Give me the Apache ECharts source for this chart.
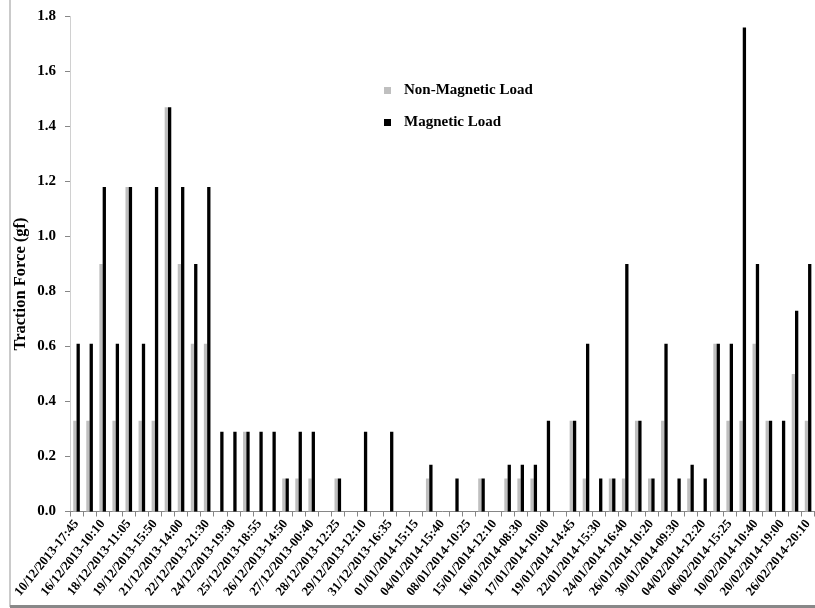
<!DOCTYPE html>
<html>
<head>
<meta charset="utf-8">
<script src="https://cdn.jsdelivr.net/npm/echarts@6/dist/echarts.min.js"></script>
<style>
html, body { margin: 0; padding: 0; background: #fff; }
#main { width: 815px; height: 608px; }
</style>
</head>
<body>
<div id="main"></div>
<script>
// category labels, only every second one is printed on the axis
var categories = [
    '10/12/2013-17:45', '', '16/12/2013-10:10', '', '18/12/2013-11:05', '', '19/12/2013-15:50', '',
    '21/12/2013-14:00', '', '22/12/2013-21:30', '', '24/12/2013-19:30', '', '25/12/2013-18:55', '',
    '26/12/2013-14:50', '', '27/12/2013-00:40', '', '28/12/2013-12:25', '', '29/12/2013-12:10', '',
    '31/12/2013-16:35', '', '01/01/2014-15:15', '', '04/01/2014-15:40', '', '08/01/2014-10:25', '',
    '15/01/2014-12:10', '', '16/01/2014-08:30', '', '17/01/2014-10:00', '', '19/01/2014-14:45', '',
    '22/01/2014-15:30', '', '24/01/2014-16:40', '', '26/01/2014-10:20', '', '30/01/2014-09:30', '',
    '04/02/2014-12:20', '', '06/02/2014-15:25', '', '10/02/2014-10:40', '', '20/02/2014-19:00', '',
    '26/02/2014-20:10'
];

var nonMagnetic = [
    0.33, 0.33, 0.9, 0.33, 1.18, 0.33, 0.33, 1.47, 0.9, 0.61,
    0.61, 0, 0, 0.29, 0, 0, 0.12, 0.12, 0.12, 0,
    0.12, 0, 0, 0, 0, 0, 0, 0.12, 0, 0,
    0, 0.12, 0, 0.12, 0.12, 0.12, 0, 0, 0.33, 0.12,
    0, 0.12, 0.12, 0.33, 0.12, 0.33, 0, 0.12, 0, 0.61,
    0.33, 0.33, 0.61, 0.33, 0, 0.5, 0.33
];

var magnetic = [
    0.61, 0.61, 1.18, 0.61, 1.18, 0.61, 1.18, 1.47, 1.18, 0.9,
    1.18, 0.29, 0.29, 0.29, 0.29, 0.29, 0.12, 0.29, 0.29, 0,
    0.12, 0, 0.29, 0, 0.29, 0, 0, 0.17, 0, 0.12,
    0, 0.12, 0, 0.17, 0.17, 0.17, 0.33, 0, 0.33, 0.61,
    0.12, 0.12, 0.9, 0.33, 0.12, 0.61, 0.12, 0.17, 0.12, 0.61,
    0.61, 1.76, 0.9, 0.33, 0.33, 0.73, 0.9
];

var yTicks = [0, 1.8, 0.2]; // min, max, step

var serif = "'Liberation Serif', 'Times New Roman', serif";

var dom = document.getElementById('main');
var myChart = echarts.init(dom, null, {renderer: 'canvas'});

var option = {
    backgroundColor: '#fff',
    animation: false,
    grid: {
        left: 70,
        top: 16.5,
        width: 745.6,
        height: 495
    },
    legend: {
        orient: 'vertical',
        left: 379,
        top: 78,
        itemWidth: 7,
        itemHeight: 7,
        itemGap: 17,
        icon: 'rect',
        textStyle: {
            fontFamily: serif,
            fontWeight: 'bold',
            fontSize: 15,
            color: '#000',
            padding: [0, 0, 0, 8]
        },
        data: ['Non-Magnetic Load', 'Magnetic Load']
    },
    xAxis: {
        type: 'category',
        data: categories,
        axisLine: {lineStyle: {color: '#868686', width: 1}},
        axisTick: {show: true, interval: 0, length: 5, lineStyle: {color: '#868686'}},
        axisLabel: {
            interval: 0,
            rotate: 51,
            margin: 10,
            fontFamily: serif,
            fontWeight: 'bold',
            fontSize: 13,
            color: '#000'
        }
    },
    yAxis: {
        type: 'value',
        min: yTicks[0],
        max: yTicks[1],
        interval: yTicks[2],
        splitLine: {show: false},
        axisLine: {show: true, lineStyle: {color: '#d0d0d0'}},
        axisTick: {show: true, length: 5, lineStyle: {color: '#868686'}},
        axisLabel: {
            margin: 14,
            fontFamily: serif,
            fontWeight: 'bold',
            fontSize: 15,
            color: '#000',
            formatter: function (v) { return v.toFixed(1); }
        }
    },
    graphic: [
        {
            type: 'text',
            x: 21,
            y: 284,
            rotation: Math.PI / 2,
            style: {
                text: 'Traction Force (gf)',
                fontFamily: serif,
                fontWeight: 'bold',
                fontSize: 16.5,
                fill: '#000',
                align: 'center',
                verticalAlign: 'middle'
            }
        },
        // frame of the original figure
        {type: 'line', shape: {x1: 10, y1: 0, x2: 10, y2: 607}, style: {stroke: '#b8b8b8', lineWidth: 1.5}},
        {type: 'line', shape: {x1: 10, y1: 606.5, x2: 815, y2: 606.5}, style: {stroke: '#888', lineWidth: 3}}
    ],
    series: [
        {
            name: 'Non-Magnetic Load',
            type: 'bar',
            data: nonMagnetic,
            barWidth: 3.3,
            barGap: '0%',
            itemStyle: {color: '#bfbfbf'}
        },
        {
            name: 'Magnetic Load',
            type: 'bar',
            data: magnetic,
            barWidth: 3.3,
            barGap: '0%',
            itemStyle: {color: '#000'}
        }
    ]
};

myChart.setOption(option);
</script>
</body>
</html>
